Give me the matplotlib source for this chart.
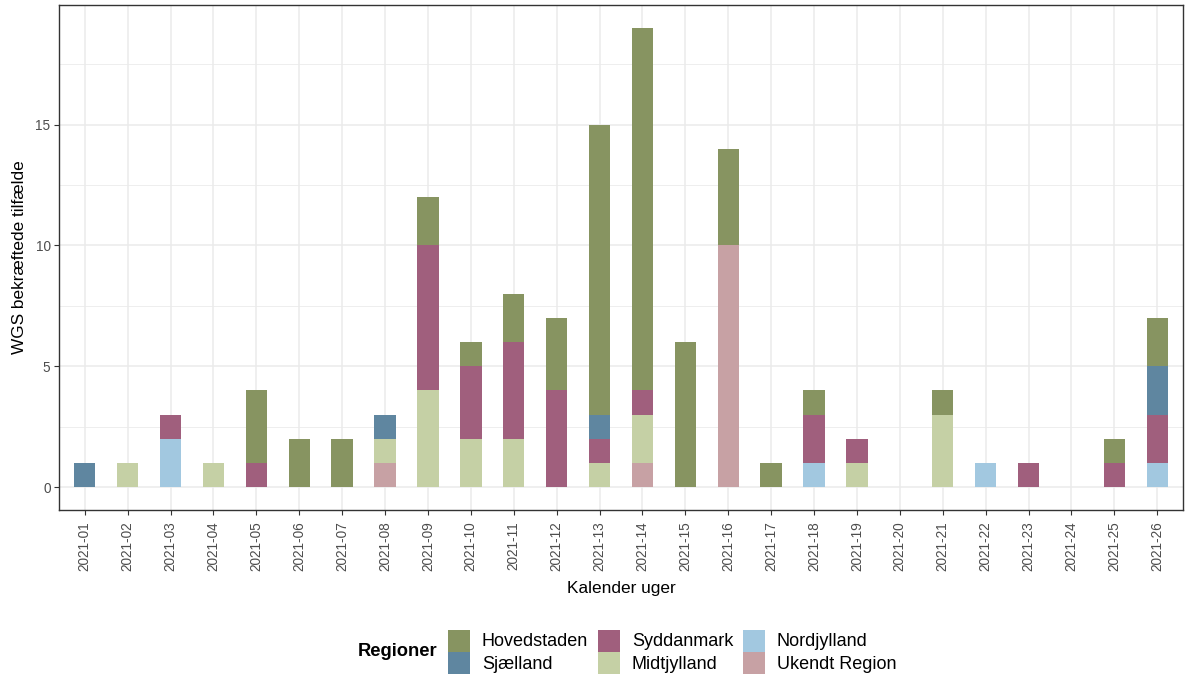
import matplotlib
matplotlib.use("Agg")
import matplotlib.pyplot as plt
from matplotlib.patches import Patch
import numpy as np

plt.rcParams['font.family'] = ['Liberation Sans', 'DejaVu Sans']

weeks = [f"2021-{i:02d}" for i in range(1, 27)]
regions = ["Hovedstaden", "Sjælland", "Syddanmark", "Midtjylland", "Nordjylland", "Ukendt Region"]
colors = {"Hovedstaden": "#879461", "Sjælland": "#5f86a0", "Syddanmark": "#a05f7d",
          "Midtjylland": "#c5d0a5", "Nordjylland": "#a2c8e0", "Ukendt Region": "#c7a1a4"}

hovedstaden   = [0,0,0,0,3,2,2,0,2,1,2,3,12,15,6,4,1,1,0,0,1,0,0,0,1,2]
sjaelland     = [1,0,0,0,0,0,0,1,0,0,0,0,1,0,0,0,0,0,0,0,0,0,0,0,0,2]
syddanmark    = [0,0,1,0,1,0,0,0,6,3,4,4,1,1,0,0,0,2,1,0,0,0,1,0,1,2]
midtjylland   = [0,1,0,1,0,0,0,1,4,2,2,0,1,2,0,0,0,0,1,0,3,0,0,0,0,0]
nordjylland   = [0,0,2,0,0,0,0,0,0,0,0,0,0,0,0,0,0,1,0,0,0,1,0,0,0,1]
ukendt        = [0,0,0,0,0,0,0,1,0,0,0,0,0,1,0,10,0,0,0,0,0,0,0,0,0,0]

series = {"Hovedstaden": hovedstaden, "Sjælland": sjaelland, "Syddanmark": syddanmark,
          "Midtjylland": midtjylland, "Nordjylland": nordjylland, "Ukendt Region": ukendt}

fig = plt.figure(figsize=(11.85, 6.78), dpi=100)
ax = fig.add_axes([59/1185, 1-510/678, (1183-59)/1185, (510-5)/678])

x = np.arange(1, len(weeks)+1)
bottom = np.zeros(len(weeks))
for r in reversed(regions):
    vals = np.array(series[r], dtype=float)
    ax.bar(x, vals, width=0.5, bottom=bottom, color=colors[r], edgecolor='none',
           linewidth=0, zorder=3)
    bottom += vals

ax.set_xlim(0.4, 26.6)
ax.set_ylim(-0.95, 19.95)
ax.set_xticks(x)
ax.set_xticklabels(weeks, rotation=90)
ax.set_yticks([0, 5, 10, 15])
ax.set_yticks([2.5, 7.5, 12.5, 17.5], minor=True)
ax.grid(True, which='major', color='#ebebeb', linewidth=1.1, zorder=0)
ax.grid(True, which='minor', axis='y', color='#ebebeb', linewidth=0.6, zorder=0)
ax.tick_params(axis='both', which='major', labelsize=9.8, labelcolor='#4d4d4d', color='#333333', length=3.6, width=0.8, pad=2.5)
ax.tick_params(axis='x', which='major', pad=4.5)
ax.tick_params(axis='both', which='minor', length=0)
for s in ax.spines.values():
    s.set_color('#333333')
    s.set_linewidth(1.0)

ax.set_xlabel("Kalender uger", fontsize=12.4, color='black', labelpad=7.5)
ax.set_ylabel("WGS bekræftede tilfælde", fontsize=12.4, color='black', labelpad=6)

handles = [Patch(facecolor=colors[r], edgecolor='none', label=r) for r in regions]
leg = fig.legend(handles=handles, ncol=3, loc='center left', bbox_to_anchor=(448/1185, 1-652/678),
                 frameon=False, fontsize=13, handlelength=1.22, handleheight=1.5,
                 handletextpad=0.65, columnspacing=0.55, labelspacing=0.05,
                 borderpad=0, borderaxespad=0)
fig.text(437/1185, 1-652/678, "Regioner", ha='right', va='center', fontsize=13.2, fontweight='bold')
fig.savefig("out.png", dpi=100)
